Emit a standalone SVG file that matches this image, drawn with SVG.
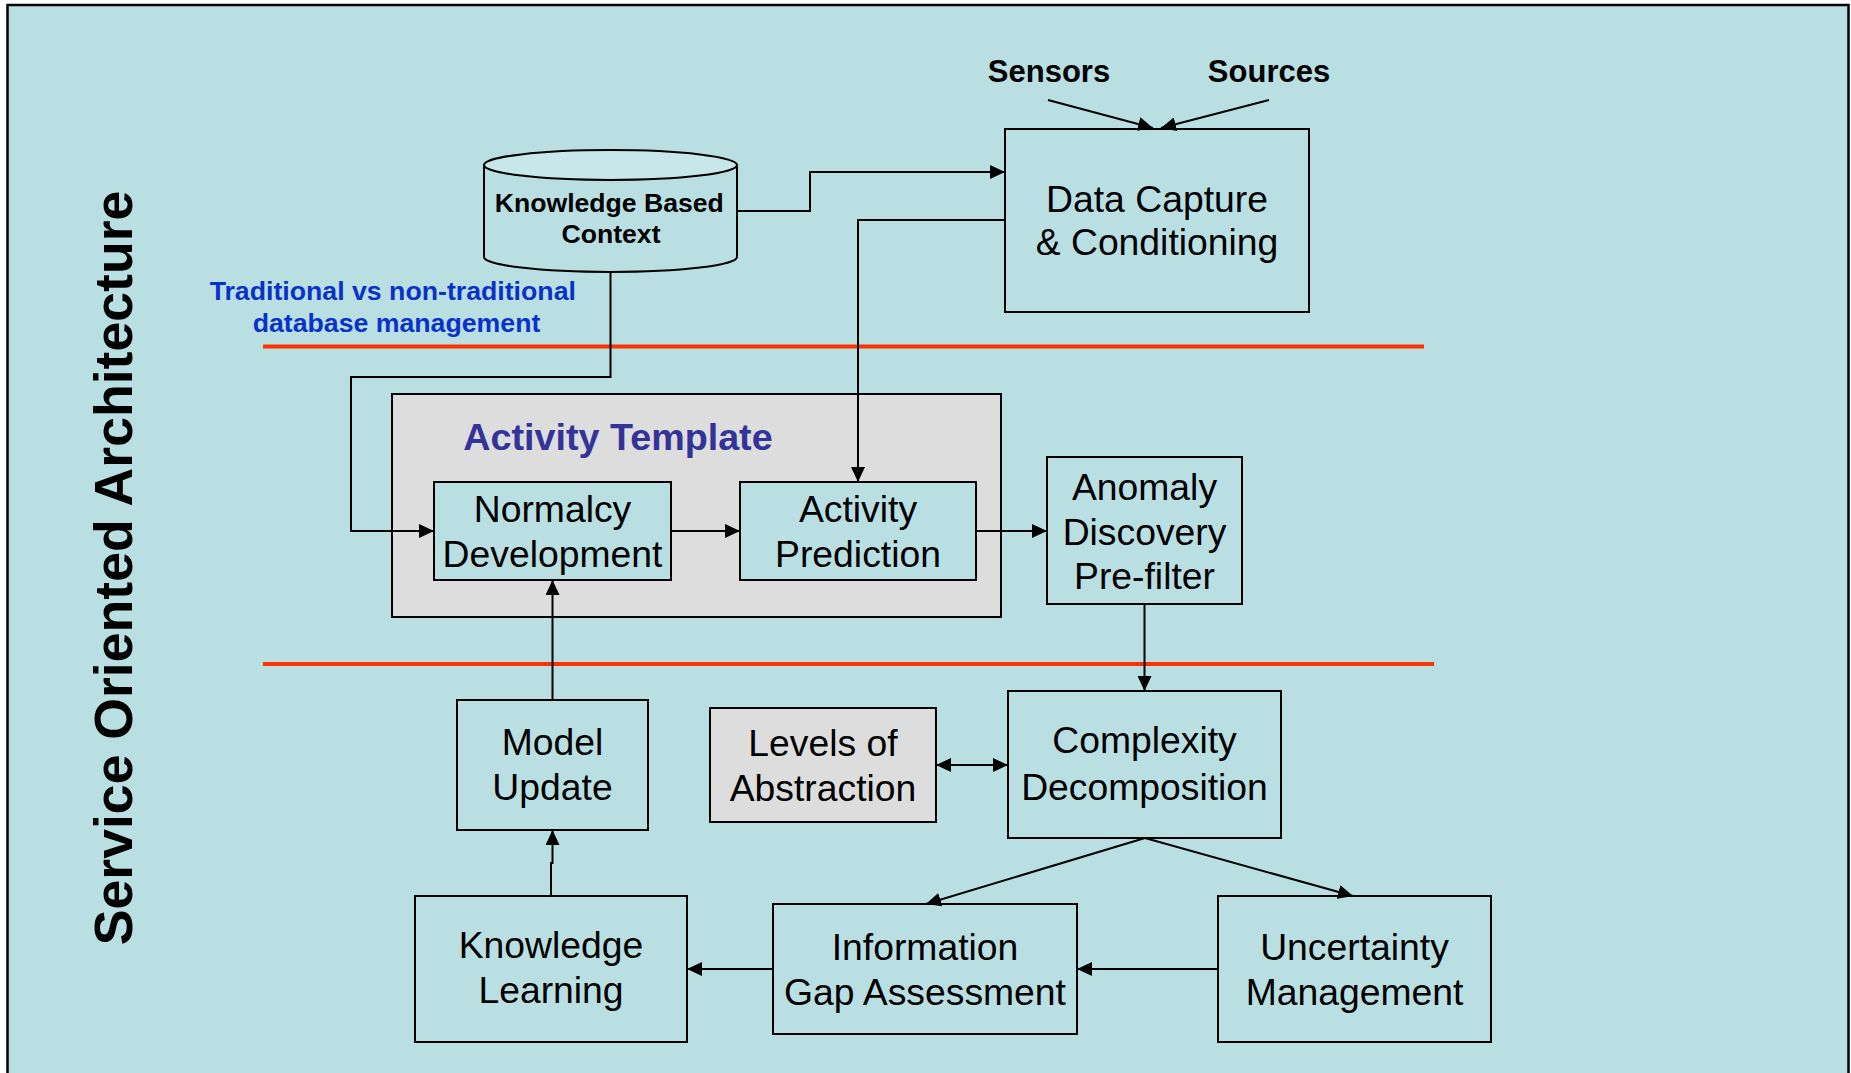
<svg xmlns="http://www.w3.org/2000/svg" width="1851" height="1073" viewBox="0 0 1851 1073">
  <style>
    .box { fill: #B9DFE2; stroke: #000; stroke-width: 2; }
    .grey { fill: #DDDDDD; stroke: #000; stroke-width: 2; }
    .t { font-family: "Liberation Sans", Arial, sans-serif; font-size: 37.3px; fill: #000; text-anchor: middle; }
    .b { font-family: "Liberation Sans", Arial, sans-serif; font-weight: bold; text-anchor: middle; }
    .wire { fill: none; stroke: #000; stroke-width: 2; }
    .divider { stroke: #FF3300; stroke-width: 4; }
  </style>
  <defs>
    <marker id="arrow" markerUnits="userSpaceOnUse" markerWidth="16" markerHeight="14" refX="15" refY="7" orient="auto-start-reverse">
      <path d="M0,0 L15,7 L0,14 z" fill="#000"/>
    </marker>
  </defs>

  <!-- page background and frame -->
  <rect x="0" y="0" width="1851" height="1073" fill="#fff"/>
  <rect x="7.5" y="5" width="1841" height="1080" fill="#B9DFE2" stroke="#000" stroke-width="2.5"/>

  <!-- side title -->
  <text class="b" font-size="53.6" transform="translate(132,568) rotate(-90)">Service Oriented Architecture</text>

  <!-- layer dividers -->
  <line class="divider" x1="263" y1="346.5" x2="1424" y2="346.5"/>
  <line class="divider" x1="263" y1="664" x2="1434" y2="664"/>

  <text class="b" font-size="26.7" fill="#0A32C8">
    <tspan x="396.5" y="300">Traditional vs non-traditional</tspan>
    <tspan x="396.5" y="332">database management</tspan>
  </text>

  <g id="sensors"><text class="b" font-size="31" x="1049" y="82">Sensors</text></g>
  <g id="sources"><text class="b" font-size="31" x="1269" y="82">Sources</text></g>

  <g id="knowledge-context">
    <path d="M484,165 V257 A126.5,15 0 0 0 737,257 V165" fill="#B9DFE2" stroke="#000" stroke-width="2"/>
    <ellipse cx="610.5" cy="165" rx="126.5" ry="15" fill="#C8E7EA" stroke="#000" stroke-width="2"/>
    <text class="b" font-size="26.6">
      <tspan x="613" y="212">Knowledge Based</tspan>
      <tspan x="611" y="243">Context</tspan>
    </text>
  </g>

  <g id="data-capture">
    <rect class="box" x="1005" y="129" width="304" height="183"/>
    <text class="t"><tspan x="1157" y="212">Data Capture</tspan><tspan x="1157" y="255">&amp; Conditioning</tspan></text>
  </g>

  <g id="activity-template">
    <rect class="grey" x="392" y="394" width="609" height="223"/>
    <text class="b" font-size="37.7" fill="#333399" x="618" y="450">Activity Template</text>
  </g>

  <g id="normalcy-development">
    <rect class="box" x="434" y="482" width="237" height="98"/>
    <text class="t"><tspan x="552.5" y="522">Normalcy</tspan><tspan x="552.5" y="567">Development</tspan></text>
  </g>

  <g id="activity-prediction">
    <rect class="box" x="740" y="482" width="236" height="98"/>
    <text class="t"><tspan x="858" y="522">Activity</tspan><tspan x="858" y="567">Prediction</tspan></text>
  </g>

  <g id="anomaly-discovery">
    <rect class="box" x="1047" y="457" width="195" height="147"/>
    <text class="t"><tspan x="1144.5" y="500">Anomaly</tspan><tspan x="1144.5" y="545">Discovery</tspan><tspan x="1144.5" y="589">Pre-filter</tspan></text>
  </g>

  <g id="complexity-decomposition">
    <rect class="box" x="1008" y="691" width="273" height="147"/>
    <text class="t"><tspan x="1144.5" y="753">Complexity</tspan><tspan x="1144.5" y="800">Decomposition</tspan></text>
  </g>

  <g id="levels-of-abstraction">
    <rect class="grey" x="710" y="708" width="226" height="114"/>
    <text class="t"><tspan x="823" y="756">Levels of</tspan><tspan x="823" y="801">Abstraction</tspan></text>
  </g>

  <g id="model-update">
    <rect class="box" x="457" y="700" width="191" height="130"/>
    <text class="t"><tspan x="552.5" y="755">Model</tspan><tspan x="552.5" y="800">Update</tspan></text>
  </g>

  <g id="knowledge-learning">
    <rect class="box" x="415" y="896" width="272" height="146"/>
    <text class="t"><tspan x="551" y="958">Knowledge</tspan><tspan x="551" y="1003">Learning</tspan></text>
  </g>

  <g id="information-gap">
    <rect class="box" x="773" y="904" width="304" height="130"/>
    <text class="t"><tspan x="925" y="960">Information</tspan><tspan x="925" y="1005">Gap Assessment</tspan></text>
  </g>

  <g id="uncertainty-management">
    <rect class="box" x="1218" y="896" width="273" height="146"/>
    <text class="t"><tspan x="1354.5" y="960">Uncertainty</tspan><tspan x="1354.5" y="1005">Management</tspan></text>
  </g>

  <g id="connectors">
    <path class="wire" d="M1048,100 L1153,128" marker-end="url(#arrow)"/>
    <path class="wire" d="M1269,100 L1161,128" marker-end="url(#arrow)"/>
    <path class="wire" d="M737,211 H810 V172 H1005" marker-end="url(#arrow)"/>
    <path class="wire" d="M1005,220 H858 V482" marker-end="url(#arrow)"/>
    <path class="wire" d="M610.5,272 V377 H351 V531 H434" marker-end="url(#arrow)"/>
    <path class="wire" d="M671,531 H740" marker-end="url(#arrow)"/>
    <path class="wire" d="M976,531 H1047" marker-end="url(#arrow)"/>
    <path class="wire" d="M1144.5,604 V691" marker-end="url(#arrow)"/>
    <path class="wire" d="M936,765 H1008" marker-start="url(#arrow)" marker-end="url(#arrow)"/>
    <path class="wire" d="M552.5,700 V580" marker-end="url(#arrow)"/>
    <path class="wire" d="M551,896 V863 H552.5 V830" marker-end="url(#arrow)"/>
    <path class="wire" d="M1145,838 L926,904" marker-end="url(#arrow)"/>
    <path class="wire" d="M1145,838 L1353,896" marker-end="url(#arrow)"/>
    <path class="wire" d="M773,969 H687" marker-end="url(#arrow)"/>
    <path class="wire" d="M1218,969 H1077" marker-end="url(#arrow)"/>
  </g>
</svg>
